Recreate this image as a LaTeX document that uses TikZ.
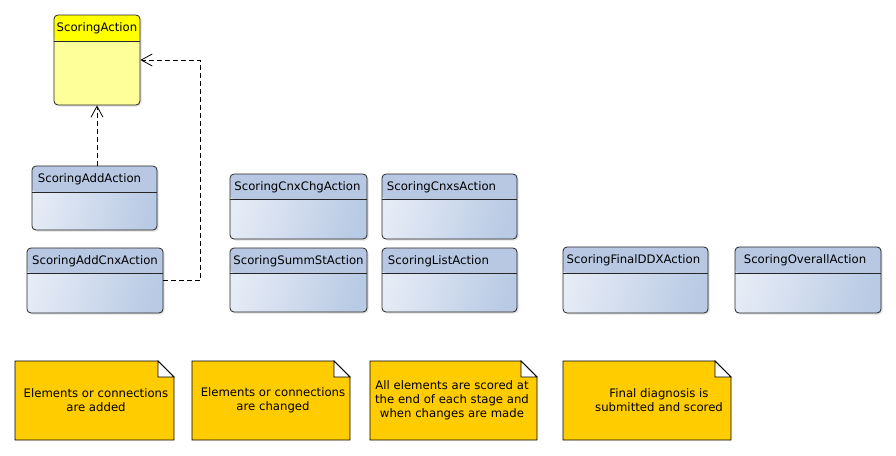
\documentclass[tikz,border=0pt]{standalone}
\usepackage{fontspec}
\setmainfont{DejaVu Sans}
\usetikzlibrary{arrows.meta,shadows}
\definecolor{hdrblue}{RGB}{184,200,227}
\definecolor{bodyL}{RGB}{230,236,246}
\definecolor{bodyR}{RGB}{185,202,228}
\definecolor{hdryel}{RGB}{255,255,0}
\definecolor{bodyyel}{RGB}{255,255,153}
\definecolor{notegold}{RGB}{255,204,0}
\tikzset{
  umlfont/.style={font=\fontsize{11.7}{14}\selectfont},
  classbox/.style={draw=black!85, line width=0.8pt, rounded corners=4pt,
    drop shadow={shadow xshift=1.5pt, shadow yshift=-1.5pt, opacity=0.25},
    inner sep=0pt},
  body-hdrblue/.style={left color=bodyL, right color=bodyR, shading angle=75},
  body-hdryel/.style={fill=bodyyel},
  hdr/.style={umlfont, anchor=center},
  dep/.style={draw=black, line width=0.7pt, dash pattern=on 5pt off 3pt,
    -{Straight Barb[length=11pt,width=12pt,line width=0.8pt]}},
  notefill/.style={fill=notegold, draw=black, line width=0.8pt},
  notetext/.style={umlfont, align=center}
}
% name, cx, cy, w, h, header height, header colour, label, label x offset
\newcommand\umlclassbox[9]{%
  \node[classbox, body-#7, minimum width=#4pt, minimum height=#5pt,
    path picture={%
      \fill[#7] (path picture bounding box.north west) rectangle
        ([yshift=-#6pt]path picture bounding box.north east);
      \draw[black!85, line width=0.8pt] ([yshift=-#6pt]path picture bounding box.north west) --
        ([yshift=-#6pt]path picture bounding box.north east);}]
    (#1) at (#2,#3) {};
  \node[hdr] (#1-lbl) at ([xshift=#9pt, yshift=-#6pt/2-1pt]#1.north) {#8};}
\newcommand\umlnote[5]{% name, x1, y1, x2, y2
  \coordinate (#1-nw) at (#2,#3);
  \coordinate (#1-se) at (#4,#5);
  \filldraw[notefill] (#2,#3) -- (#4-16,#3) -- (#4,#3+16) -- (#4,#5) -- (#2,#5) -- cycle;
  \filldraw[fill=white, draw=black, line width=0.8pt] (#4-16,#3) -- (#4-16,#3+16) -- (#4,#3+16) -- cycle;}
\begin{document}
\begin{tikzpicture}[x=1pt,y=-1pt]
\useasboundingbox (0,0) rectangle (896,455);
\fill[white] (0,0) rectangle (896,455);

\umlclassbox{sa}{97}{60}{86}{90}{26}{hdryel}{ScoringAction}{0}
\umlclassbox{adda}{94.5}{198}{125}{64}{26}{hdrblue}{ScoringAddAction}{-5}
\umlclassbox{addcnx}{95}{280.5}{136}{65}{25}{hdrblue}{ScoringAddCnxAction}{0}
\umlclassbox{cnxchg}{298.5}{206.5}{137}{65}{25}{hdrblue}{ScoringCnxChgAction}{-1}
\umlclassbox{cnxs}{449.5}{206.5}{135}{65}{25}{hdrblue}{ScoringCnxsAction}{-8}
\umlclassbox{summst}{298.5}{280}{137}{64}{25}{hdrblue}{ScoringSummStAction}{0}
\umlclassbox{list}{449.5}{280}{135}{64}{25}{hdrblue}{ScoringListAction}{-11}
\umlclassbox{final}{635.5}{280}{145}{66}{26}{hdrblue}{ScoringFinalDDXAction}{-2}
\umlclassbox{overall}{808}{280}{146}{66}{26}{hdrblue}{ScoringOverallAction}{-3}

\draw[dep] (sa.south |- adda.north) -- (sa.south);
\draw[dep] (addcnx.east) -- ++(37,0) |- (sa.east);

\umlnote{n1}{15}{361}{174}{440}
\node[notetext] (n1t) at (96,400) {Elements or connections\\are added};
\umlnote{n2}{192}{361}{350}{440}
\node[notetext] (n2t) at (273,400) {Elements or connections\\are changed};
\umlnote{n3}{370}{361}{537}{440}
\node[notetext] (n3t) at (452,400) {All elements are scored at\\the end of each stage and\\when changes are made};
\umlnote{n4}{563}{361}{731}{440}
\node[notetext] (n4t) at (659,400) {Final diagnosis is\\submitted and scored};
\end{tikzpicture}
\end{document}
